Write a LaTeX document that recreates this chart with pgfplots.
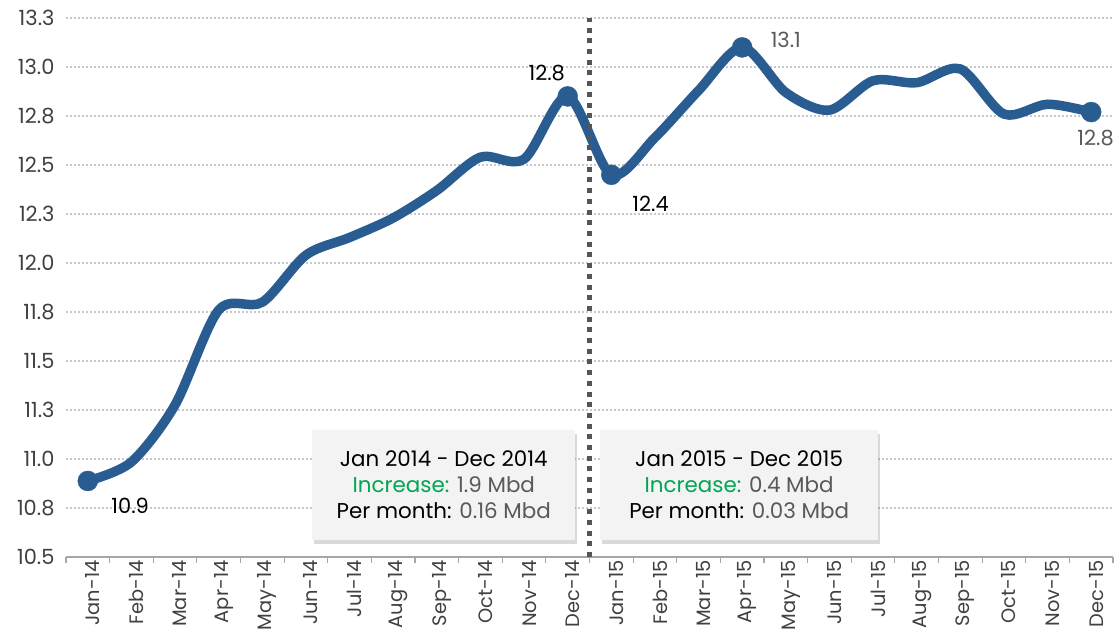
\documentclass[border=0pt]{standalone}
\usepackage{fontspec}
\setmainfont{Poppins}
\usepackage{pgfplots}
\pgfplotsset{compat=1.18}
\usetikzlibrary{shadows}
\definecolor{linecol}{HTML}{295C91}
\definecolor{gridcol}{HTML}{C8C8C8}
\definecolor{axiscol}{HTML}{A6A6A6}
\definecolor{tickcol}{HTML}{404040}
\definecolor{txtgrey}{HTML}{595959}
\definecolor{incgreen}{HTML}{00A651}
\definecolor{boxcol}{HTML}{F3F3F3}
\definecolor{vlinecol}{HTML}{555555}

\begin{document}
\begin{tikzpicture}
\begin{axis}[
    name=ax,
    width=1047bp, height=539bp, scale only axis,
    xmin=-0.5, xmax=23.5, ymin=10.5, ymax=13.25,
    xtick={0,...,23},
    xticklabels={Jan-14,Feb-14,Mar-14,Apr-14,May-14,Jun-14,Jul-14,Aug-14,Sep-14,Oct-14,Nov-14,Dec-14,
                 Jan-15,Feb-15,Mar-15,Apr-15,May-15,Jun-15,Jul-15,Aug-15,Sep-15,Oct-15,Nov-15,Dec-15},
    xticklabel style={rotate=90, anchor=east, yshift=-5bp, font=\fontsize{19.5}{19.5}\selectfont, text=tickcol},
    minor xtick={-0.5,0.5,...,23.5},
    major tick length=0pt, minor tick length=6bp,
    tick align=outside,
    minor x tick style={axiscol, line width=1.2bp},
    ytick={10.5,10.75,...,13.25},
    yticklabels={10.5,10.8,11.0,11.3,11.5,11.8,12.0,12.3,12.5,12.8,13.0,13.3},
    yticklabel style={xshift=-8bp, font=\fontsize{21}{21}\selectfont, text=tickcol},
    axis x line*=bottom, axis y line*=left,
    x axis line style={axiscol, line width=1.5bp},
    y axis line style={draw=none},
    ymajorgrids,
    grid style={gridcol, line width=1.3bp, dash pattern=on 1.6bp off 2.4bp},
    clip=false,
]
\addplot[linecol, line width=9.5bp, smooth, line cap=round, line join=round] coordinates {
    (0,10.888) (1,10.985) (2,11.276) (3,11.76) (4,11.80) (5,12.04)
    (6,12.13) (7,12.23) (8,12.37) (9,12.54) (10,12.53) (11,12.85)
    (12,12.45) (13,12.64) (14,12.88) (15,13.10) (16,12.87) (17,12.78)
    (18,12.93) (19,12.92) (20,12.99) (21,12.76) (22,12.81) (23,12.77)
};
\addplot[only marks, mark=*, mark size=10bp, linecol] coordinates {
    (0,10.888) (11,12.85) (12,12.45) (15,13.10) (23,12.77)
};
\draw[vlinecol, line width=5bp, dash pattern=on 5bp off 5.7bp] (axis cs:11.5,10.5) -- (axis cs:11.5,13.25);

\node[font=\fontsize{21}{21}\selectfont] at (axis cs:0.97,10.76) {10.9};
\node[font=\fontsize{21}{21}\selectfont] at (axis cs:10.52,12.97) {12.8};
\node[font=\fontsize{21}{21}\selectfont] at (axis cs:12.9,12.3) {12.4};
\node[font=\fontsize{21}{21}\selectfont, text=txtgrey] at (axis cs:16.0,13.14) {13.1};
\node[font=\fontsize{21}{21}\selectfont, text=txtgrey] at (axis cs:23.1,12.64) {12.8};

\node[fill=boxcol, drop shadow={opacity=0.3, shadow xshift=2bp, shadow yshift=-4bp},
      minimum width=263bp, minimum height=110bp, align=center,
      font=\fontsize{21.5}{26}\selectfont] at (axis cs:8.16,10.867)
    {Jan 2014 - Dec 2014\\
     \textcolor{incgreen}{Increase:} \textcolor{txtgrey}{1.9 Mbd}\\
     Per month: \textcolor{txtgrey}{0.16 Mbd}};
\node[fill=boxcol, drop shadow={opacity=0.3, shadow xshift=2bp, shadow yshift=-4bp},
      minimum width=278bp, minimum height=110bp, align=center,
      font=\fontsize{21.5}{26}\selectfont] at (axis cs:14.93,10.867)
    {Jan 2015 - Dec 2015\\
     \textcolor{incgreen}{Increase:} \textcolor{txtgrey}{0.4 Mbd}\\
     Per month: \textcolor{txtgrey}{0.03 Mbd}};
\end{axis}
\pgfresetboundingbox
\path[use as bounding box] ([xshift=-66bp,yshift=-81bp]ax.south west) rectangle ([xshift=5bp,yshift=18bp]ax.north east);
\end{tikzpicture}
\end{document}
